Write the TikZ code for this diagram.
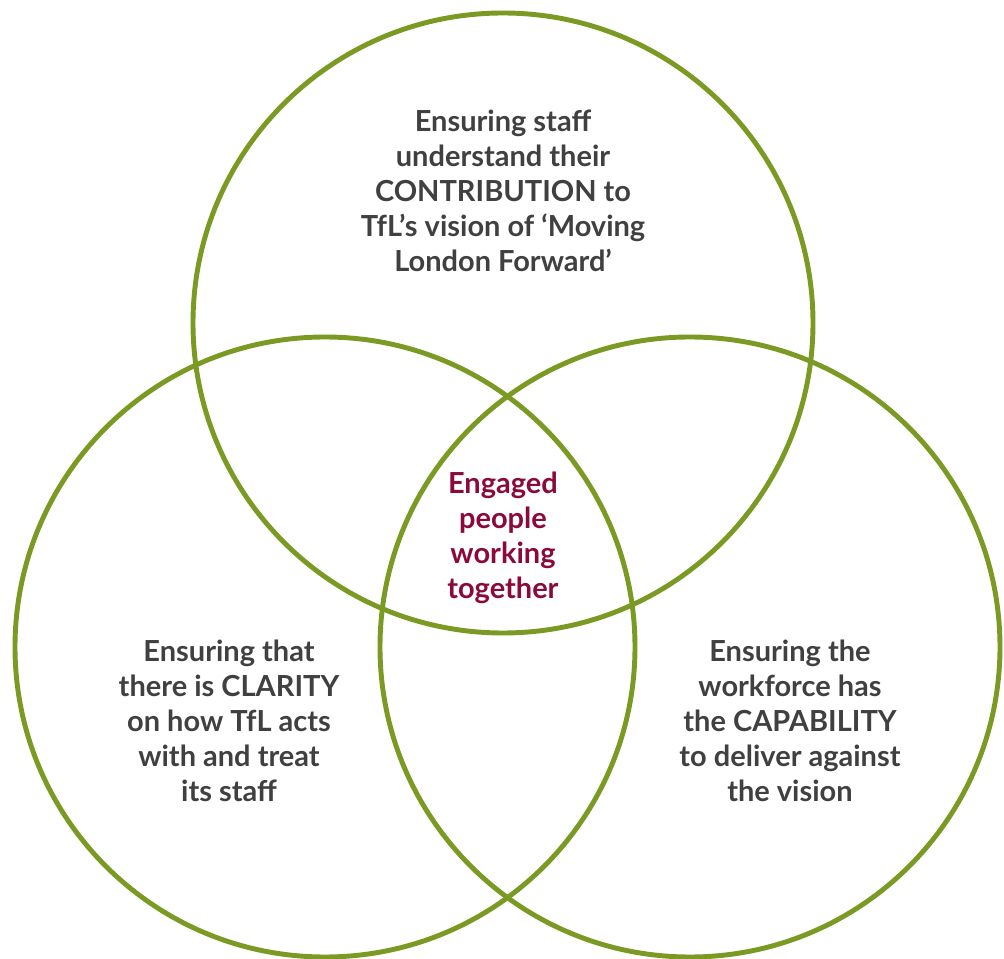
\documentclass[tikz,border=0pt]{standalone}
\usepackage{fontspec}
\setmainfont{Lato}
\definecolor{tflgreen}{HTML}{7B9A24}
\definecolor{tflgrey}{HTML}{404040}
\definecolor{tflred}{HTML}{8A0A3C}
\tikzset{
    ring/.style={circle, draw=tflgreen, line width=2.8pt, minimum size=12.4cm, inner sep=0pt},
    label text/.style={text=tflgrey, font=\fontsize{16.5}{19.9}\selectfont\bfseries, align=center},
}
\begin{document}
\begin{tikzpicture}
\useasboundingbox (0,0) rectangle (20.08,-19.18);
\node[ring] (top) at (10.06,-6.46) {};
\node[ring] (left) at (6.5,-12.94) {};
\node[ring] (right) at (13.8,-12.94) {};
\node[label text] (contribution) at (10.06,-3.82) {Ensuring staff\\understand their\\CONTRIBUTION to\\TfL’s vision of ‘Moving\\London Forward’};
\node[label text] (clarity) at (4.58,-14.42) {Ensuring that\\there is CLARITY\\on how TfL acts\\with and treat\\its staff};
\node[label text] (capability) at (15.8,-14.42) {Ensuring the\\workforce has\\the CAPABILITY\\to deliver against\\the vision};
\node[label text, text=tflred] (engaged) at (10.06,-10.76) {Engaged\\people\\working\\together};
\end{tikzpicture}
\end{document}
